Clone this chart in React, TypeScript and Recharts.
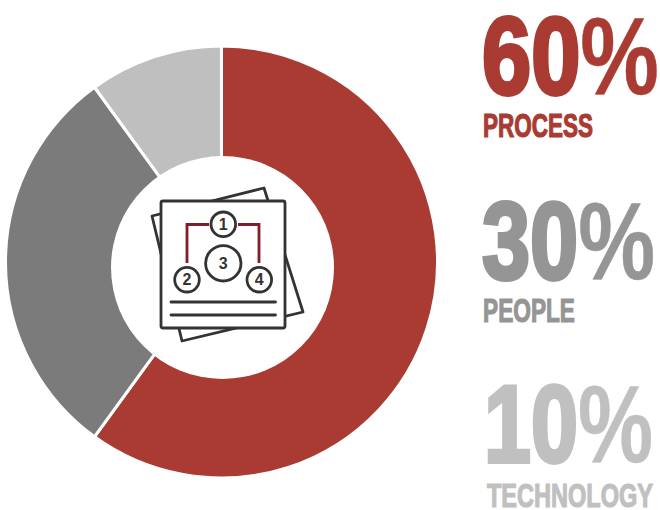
import React from "react";
import { PieChart, Pie, Cell } from "recharts";

const categories = ["PROCESS", "PEOPLE", "TECHNOLOGY"];
const shares = [60, 30, 10];
const sliceColors = ["#a93b32", "#7b7b7b", "#bfbfbf"];
const textColors = ["#a93b32", "#959595", "#c0c0c0"];

const pieData = categories.map((name, i) => ({ name, value: shares[i] }));

// x span and baselines for each big number and its caption
const numberBoxes = [
  { x: 482, width: 177, y: 94 },
  { x: 482, width: 173, y: 279 },
  { x: 484, width: 169, y: 462 },
];
const captionBoxes = [
  { x: 483, width: 110, y: 137 },
  { x: 483, width: 92, y: 322 },
  { x: 487, width: 166, y: 507 },
];

const narrow = "'Liberation Sans Narrow', 'Liberation Sans', sans-serif";
const ink = "#333333";
const accent = "#7f1d2a";

const StatBlocks = () => (
  <g fontFamily={narrow} fontWeight={700}>
    {categories.map((name, i) => (
      <g key={name} fill={textColors[i]} stroke={textColors[i]}>
        <text
          x={numberBoxes[i].x}
          y={numberBoxes[i].y}
          fontSize={110}
          strokeWidth={4}
          textLength={numberBoxes[i].width}
          lengthAdjust="spacingAndGlyphs"
        >
          {shares[i]}
          <tspan strokeWidth={0.5}>%</tspan>
        </text>
        <text
          x={captionBoxes[i].x}
          y={captionBoxes[i].y}
          fontSize={34}
          strokeWidth={1.2}
          textLength={captionBoxes[i].width}
          lengthAdjust="spacingAndGlyphs"
        >
          {name}
        </text>
      </g>
    ))}
  </g>
);

// Org-chart document icon in the hole of the donut
const CenterIcon = () => {
  const badge = (cx: number, cy: number, r: number, label: string) => (
    <g key={label}>
      <circle cx={cx} cy={cy} r={r} fill="#fff" stroke={ink} strokeWidth={2.8} />
      <text
        x={cx}
        y={cy + 5.5}
        textAnchor="middle"
        fontFamily={narrow}
        fontWeight={700}
        fontSize={16}
        fill={ink}
      >
        {label}
      </text>
    </g>
  );
  return (
    <svg
      width={660}
      height={510}
      style={{ position: "absolute", left: 0, top: 0, pointerEvents: "none" }}
    >
      {/* the hole sits a little below the ring's own centre */}
      <circle cx={222.5} cy={267.5} r={111.5} fill="#fff" />
      <path
        d="M152 216 L264 188 L303 312 L182 341 Z"
        fill="#fff"
        stroke={ink}
        strokeWidth={2.8}
        strokeLinejoin="round"
      />
      <rect x={161} y={201} width={124} height={127} rx={2} fill="#fff" stroke={ink} strokeWidth={2.8} />
      <path
        d="M187 263 V224.5 H209 M238 224.5 H259 V263"
        fill="none"
        stroke={accent}
        strokeWidth={2.8}
      />
      {badge(223.3, 224.3, 12.3, "1")}
      {badge(187, 279.7, 12.3, "2")}
      {badge(223.3, 263.3, 17.7, "3")}
      {badge(259.3, 279.7, 12.3, "4")}
      <path d="M171 302 H275.5 M171 315 H275.5" stroke={ink} strokeWidth={2.8} strokeLinecap="round" />
    </svg>
  );
};

export default function App() {
  return (
    <div style={{ position: "absolute", left: 0, top: 0, width: 660, height: 510 }}>
      <PieChart width={660} height={510} margin={{ top: 0, right: 0, bottom: 0, left: 0 }}>
        <Pie
          data={pieData}
          dataKey="value"
          nameKey="name"
          cx={221.5}
          cy={262}
          innerRadius={95}
          outerRadius={216}
          startAngle={90}
          endAngle={-270}
          stroke="#ffffff"
          strokeWidth={3}
          isAnimationActive={false}
        >
          {pieData.map((d, i) => (
            <Cell key={d.name} fill={sliceColors[i]} />
          ))}
        </Pie>
        <StatBlocks />
      </PieChart>
      <CenterIcon />
    </div>
  );
}
